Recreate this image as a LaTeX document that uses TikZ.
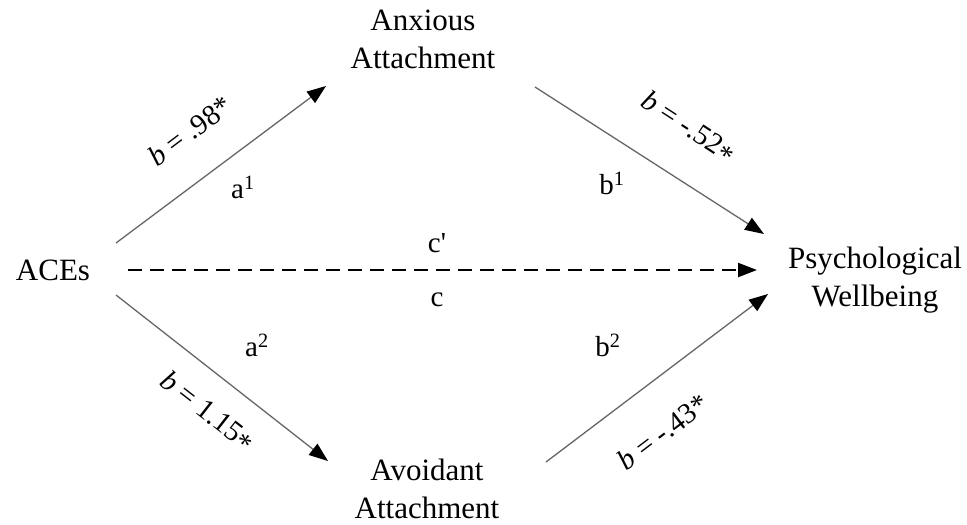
\documentclass[tikz,border=0pt]{standalone}
\usepackage{fontspec}
\setmainfont{Liberation Serif}
\usetikzlibrary{arrows.meta}
\begin{document}
\begin{tikzpicture}[x=1pt,y=-1pt,
  lbl/.style={font=\fontsize{31}{38}\selectfont, align=center, inner sep=0pt},
  coef/.style={font=\fontsize{29}{34}\selectfont, inner sep=0pt},
  pathline/.style={draw=black!60, line width=1.3pt, -{Triangle[length=19pt,width=14pt,color=black]}},
  direct/.style={draw=black, line width=2.2pt, dash pattern=on 14pt off 8pt, -{Triangle[length=19pt,width=14pt,color=black]}}
]
\useasboundingbox (0,0) rectangle (967,525);
\node[lbl] (anx) at (423,39) {Anxious\\Attachment};
\node[lbl] (aces) at (53,270) {ACEs};
\node[lbl] (pw) at (875,280) {Psychological\\Wellbeing};
\node[lbl] (avo) at (427,489) {Avoidant\\Attachment};

\coordinate (a1s) at (116,243);
\coordinate (a1e) at (326,86);
\coordinate (b1s) at (535,87);
\coordinate (b1e) at (764,234);
\coordinate (a2s) at (116,295);
\coordinate (a2e) at (328,461);
\coordinate (b2s) at (546,462);
\coordinate (b2e) at (768,294);
\coordinate (cs) at (128,270);
\coordinate (ce) at (757,270);

\draw[pathline] (a1s) -- (a1e);
\draw[pathline] (b1s) -- (b1e);
\draw[pathline] (a2s) -- (a2e);
\draw[pathline] (b2s) -- (b2e);
\draw[direct] (cs) -- (ce);

\node[coef, rotate=37] (la1) at (190,131) {\textit{b} = .98*};
\node[coef, rotate=-33] (lb1) at (688,128) {\textit{b} = -.52\raisebox{-0.3ex}{*}};
\node[coef, rotate=-38] (la2) at (207,412) {\textit{b} = 1.15\raisebox{-0.3ex}{*}};
\node[coef, rotate=37] (lb2) at (663,432) {\textit{b} = -.43*};

\node[coef] (sa1) at (243,187) {a\textsuperscript{1}};
\node[coef] (sb1) at (612,183) {b\textsuperscript{1}};
\node[coef] (sa2) at (257,345) {a\textsuperscript{2}};
\node[coef] (sb2) at (608,345) {b\textsuperscript{2}};
\node[coef] (scp) at (437,243) {c\textquotesingle};
\node[coef] (sc) at (437,300) {c};
\end{tikzpicture}
\end{document}
